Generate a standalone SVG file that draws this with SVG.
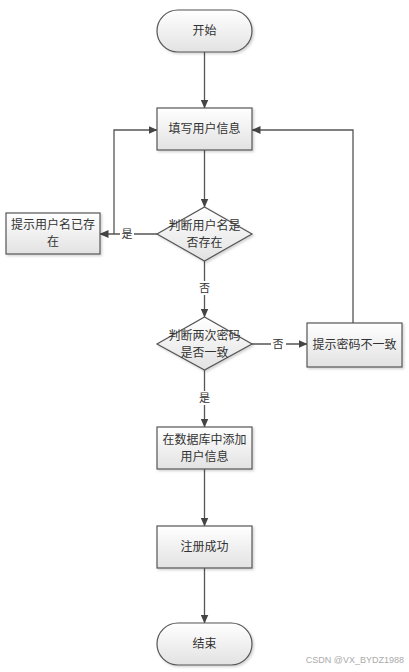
<svg xmlns="http://www.w3.org/2000/svg" width="409" height="672" viewBox="0 0 409 672">
<style>
.n{fill:url(#g);stroke:#555;stroke-width:1.2;filter:url(#sh)}
.t{font-family:"Noto Sans CJK SC",sans-serif;font-size:12px;fill:#333;text-anchor:middle}
.l{fill:none;stroke:#555;stroke-width:1.3}
.lb{font-family:"Noto Sans CJK SC",sans-serif;font-size:11px;fill:#333;text-anchor:middle}
</style>
<defs>
<linearGradient id="g" x1="0" y1="0" x2="0" y2="1"><stop offset="0" stop-color="#ffffff"/><stop offset="1" stop-color="#e2e2e2"/></linearGradient>
<filter id="sh" x="-10%" y="-10%" width="130%" height="140%"><feDropShadow dx="1.5" dy="1.5" stdDeviation="1" flood-color="#000" flood-opacity="0.18"/></filter>
<marker id="a" markerWidth="9" markerHeight="8" refX="8.5" refY="4" orient="auto" markerUnits="userSpaceOnUse"><path d="M0,0 L9,4 L0,8 Z" fill="#444"/></marker>
</defs>
<rect width="409" height="672" fill="#fff"/>
<g id="connectors">
<path class="l" d="M204.5,52 V108" marker-end="url(#a)"/>
<path class="l" d="M204.5,150 V207" marker-end="url(#a)"/>
<path class="l" d="M157,234 H100" marker-end="url(#a)"/>
<path class="l" d="M114,234 V130 H157" marker-end="url(#a)"/>
<path class="l" d="M204.5,261 V317" marker-end="url(#a)"/>
<path class="l" d="M252,344 H307" marker-end="url(#a)"/>
<path class="l" d="M353,323 V130 H252" marker-end="url(#a)"/>
<path class="l" d="M204.5,370 V427" marker-end="url(#a)"/>
<path class="l" d="M204.5,469 V526" marker-end="url(#a)"/>
<path class="l" d="M204.5,568 V623" marker-end="url(#a)"/>
<rect x="120" y="227" width="14" height="14" fill="#fff"/>
<text class="lb" x="127" y="238">是</text>
<rect x="197" y="281" width="15" height="14" fill="#fff"/>
<text class="lb" x="204.5" y="292">否</text>
<rect x="271" y="337" width="15" height="14" fill="#fff"/>
<text class="lb" x="278" y="348">否</text>
<rect x="197" y="391" width="15" height="14" fill="#fff"/>
<text class="lb" x="204.5" y="402">是</text>
</g>
<g id="start"><rect class="n" x="157" y="10" width="95" height="42" rx="21"/><text class="t" x="204.5" y="35">开始</text></g>
<g id="fill-info"><rect class="n" x="157" y="108" width="95" height="42"/><text class="t" x="204.5" y="133">填写用户信息</text></g>
<g id="check-user"><path class="n" d="M204.5,207 L252,234 L204.5,261 L157,234 Z"/><text class="t" x="204.5" y="230">判断用户名是</text><text class="t" x="204.5" y="247">否存在</text></g>
<g id="user-exists"><rect class="n" x="6" y="213" width="94" height="41"/><text class="t" x="53" y="229">提示用户名已存</text><text class="t" x="53" y="246">在</text></g>
<g id="check-pwd"><path class="n" d="M204.5,317 L252,344 L204.5,370 L157,344 Z"/><text class="t" x="204.5" y="340">判断两次密码</text><text class="t" x="204.5" y="357">是否一致</text></g>
<g id="pwd-mismatch"><rect class="n" x="307" y="323" width="95" height="44"/><text class="t" x="354.5" y="349">提示密码不一致</text></g>
<g id="add-db"><rect class="n" x="157" y="427" width="95" height="42"/><text class="t" x="204.5" y="444">在数据库中添加</text><text class="t" x="204.5" y="461">用户信息</text></g>
<g id="success"><rect class="n" x="157" y="526" width="95" height="42"/><text class="t" x="204.5" y="551">注册成功</text></g>
<g id="end"><rect class="n" x="157" y="623" width="95" height="42" rx="21"/><text class="t" x="204.5" y="648">结束</text></g>
<text x="404" y="663" font-family="Liberation Sans,sans-serif" font-size="9" fill="#aaa" text-anchor="end">CSDN @VX_BYDZ1988</text>
</svg>
